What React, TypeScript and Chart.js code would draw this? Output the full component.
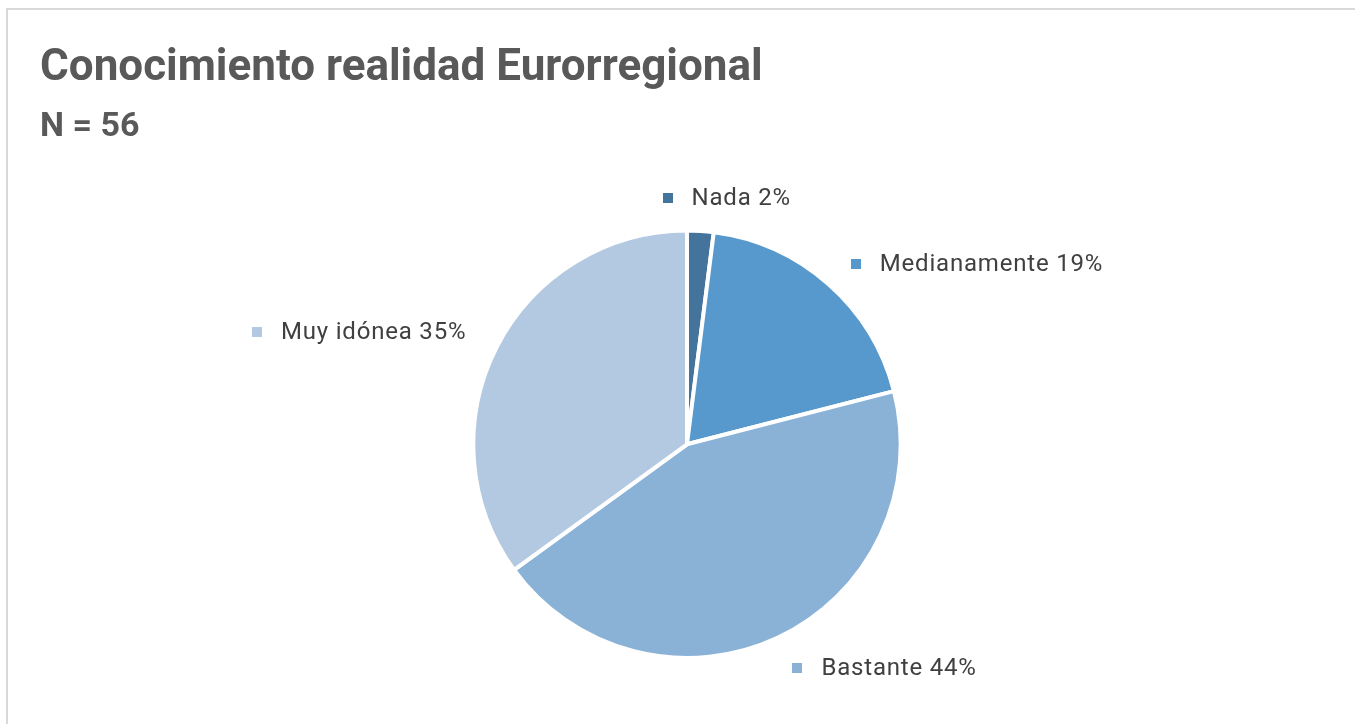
import React, { useEffect, useRef } from "react";
import { Chart, registerables } from "chart.js";

Chart.register(...registerables);

const categories = ["Nada", "Medianamente", "Bastante", "Muy idónea"];
const percentages = [2, 19, 44, 35];
const sliceColors = ["#44739c", "#5899cd", "#8ab2d6", "#b3c9e1"];
const titleText = "Conocimiento realidad Eurorregional";
const subtitleText = "N = 56";

const outsideLabels = {
  id: "outsideLabels",
  afterDatasetsDraw(chart: any) {
    const ctx = chart.ctx;
    const meta = chart.getDatasetMeta(0);
    ctx.save();
    ctx.font = "24px Roboto";
    try { (ctx as any).letterSpacing = "0.8px"; } catch (e) {}
    meta.data.forEach((arc: any, i: number) => {
      const { x, y, startAngle, endAngle, outerRadius } = arc.getProps(
        ["x", "y", "startAngle", "endAngle", "outerRadius"],
        true
      );
      const mid = (startAngle + endAngle) / 2;
      const dx = Math.cos(mid);
      const dy = Math.sin(mid);
      const R = outerRadius + 34;
      const ax = x + dx * R;
      const ay = y + dy * R;
      const text = `${categories[i]} ${percentages[i]}%`;
      const tw = ctx.measureText(text).width;
      const w = 10 + 19 + tw;
      const f = Math.max(-1, Math.min(1, dx * 6));
      const cx = ax + (f * w) / 2;
      const cy = ay + Math.max(0, -dy * dx) * 12;
      const left = cx - w / 2;
      ctx.fillStyle = sliceColors[i];
      ctx.fillRect(Math.round(left), Math.round(cy - 5), 10, 10);
      ctx.fillStyle = "#404040";
      ctx.textBaseline = "middle";
      ctx.textAlign = "left";
      ctx.fillText(text, left + 29, cy + 1);
    });
    ctx.restore();
  },
};

export default function App() {
  const canvasRef = useRef<HTMLCanvasElement | null>(null);

  useEffect(() => {
    document.body.style.margin = "0";
    document.body.style.overflow = "hidden";
    const canvas = canvasRef.current;
    if (!canvas) return;
    const chart = new Chart(canvas, {
      type: "pie",
      data: {
        labels: categories,
        datasets: [
          {
            data: percentages,
            backgroundColor: sliceColors,
            borderColor: "#ffffff",
            borderWidth: 4,
          },
        ],
      },
      options: {
        responsive: false,
        animation: false,
        devicePixelRatio: 1,
        layout: { padding: { left: 40, right: 21, top: 43, bottom: 64 } },
        plugins: {
          legend: { display: false },
          tooltip: { enabled: false },
          title: {
            display: true,
            text: titleText,
            align: "start",
            color: "#595959",
            font: { family: "Roboto", size: 44, weight: "bold", lineHeight: 1.2 },
            padding: { top: 0, bottom: 0 },
          },
          subtitle: {
            display: true,
            text: subtitleText,
            align: "start",
            color: "#595959",
            font: { family: "Roboto", size: 34, weight: "bold", lineHeight: 1.2 },
            padding: { top: 11, bottom: 81 },
          },
        },
      },
      plugins: [outsideLabels],
    });
    return () => chart.destroy();
  }, []);

  return (
    <div style={{ position: "relative", width: 1355, height: 724, overflow: "hidden", background: "#ffffff" }}>
      <div
        style={{
          position: "absolute",
          left: 6,
          top: 8,
          width: 1400,
          height: 800,
          border: "2px solid #d9d9d9",
          boxSizing: "border-box",
        }}
      />
      <canvas ref={canvasRef} width={1355} height={724} style={{ position: "absolute", left: 0, top: 0 }} />
    </div>
  );
}
